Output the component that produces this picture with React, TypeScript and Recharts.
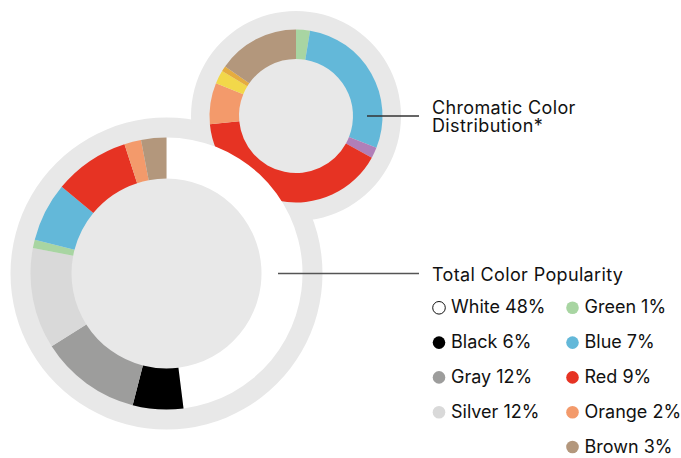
import React from 'react';
import { PieChart, Pie, Cell } from 'recharts';

// Total color popularity (percent of all cars)
const totalNames = ['White', 'Black', 'Gray', 'Silver', 'Green', 'Blue', 'Red', 'Orange', 'Brown'];
const totalValues = [48, 6, 12, 12, 1, 7, 9, 2, 3];
const totalColors = ['#ffffff', '#000000', '#9d9d9c', '#d9d9d9', '#a8d5a2', '#63b8d9', '#e63323', '#f39a6b', '#b3977c'];

// Chromatic color distribution (share of chromatic colors)
const chromaNames = ['Green', 'Blue', 'Purple', 'Red', 'Orange', 'Yellow', 'Gold', 'Brown'];
const chromaValues = [2.6, 28.4, 2, 40.5, 7.7, 2.5, 1, 15.3];
const chromaColors = ['#a8d5a2', '#63b8d9', '#b07fb8', '#e63323', '#f39a6b', '#f2d84a', '#e5ac3f', '#b3977c'];

const HALO = '#e8e8e8';
const FONT = 'Inter, "Liberation Sans", Arial, sans-serif';
const FS = 18;

const totalData = totalNames.map((name, i) => ({ name, value: totalValues[i] }));
const chromaData = chromaNames.map((name, i) => ({ name, value: chromaValues[i] }));
const halo = [{ name: 'halo', value: 1 }];

const big = { cx: 166.5, cy: 273.5 };
const small = { cx: 296, cy: 116 };

// annotation lines, titles and legend drawn over the chart
const Overlay = () => (
  <svg
    width={681}
    height={458}
    style={{ position: 'absolute', left: 0, top: 0, pointerEvents: 'none' }}
    fontFamily={FONT}
    fontSize={FS}
  >
    <line x1={367} y1={small.cy} x2={419} y2={small.cy} stroke="#333" strokeWidth={1.3} />
    <line x1={278} y1={big.cy} x2={419} y2={big.cy} stroke="#555" strokeWidth={1.3} />
    <g letterSpacing={0.35} fill="#111">
      <text x={432} y={114.3}>Chromatic Color</text>
      <text x={432} y={132.3}>Distribution*</text>
      <text x={432} y={281}>Total Color Popularity</text>
    </g>
    {totalData.map((d, i) => {
      // first four in col 1, rest in col 2
      const col = i < 4 ? 0 : 1;
      const row = col === 0 ? i : i - 4;
      const x = col === 0 ? 439 : 572.5;
      const base = 313.3 + row * 34.8;
      return (
        <g key={d.name}>
          <circle
            cx={x}
            cy={base - 5.5}
            r={6.3}
            fill={totalColors[i]}
            stroke={d.name === 'White' ? '#111' : 'none'}
            strokeWidth={1}
          />
          <text x={x + 12} y={base} fill="#111" letterSpacing={0}>
            {d.name} {d.value}%
          </text>
        </g>
      );
    })}
  </svg>
);

export default function App() {
  return (
    <div style={{ position: 'absolute', left: 0, top: 0, width: 681, height: 458, background: '#fff' }}>
      <PieChart width={681} height={458} margin={{ top: 0, right: 0, bottom: 0, left: 0 }}>
        <Pie
          data={halo}
          dataKey="value"
          cx={big.cx}
          cy={big.cy}
          outerRadius={156}
          innerRadius={0}
          fill={HALO}
          stroke="none"
          isAnimationActive={false}
        />
        <Pie
          data={halo}
          dataKey="value"
          cx={small.cx}
          cy={small.cy}
          outerRadius={105}
          innerRadius={0}
          fill={HALO}
          stroke="none"
          isAnimationActive={false}
        />
        <Pie
          data={chromaData}
          dataKey="value"
          cx={small.cx}
          cy={small.cy}
          innerRadius={57}
          outerRadius={86.5}
          startAngle={90}
          endAngle={-270}
          stroke="none"
          isAnimationActive={false}
        >
          {chromaData.map((d, i) => (
            <Cell key={d.name} fill={chromaColors[i]} />
          ))}
        </Pie>
        <Pie
          data={totalData}
          dataKey="value"
          cx={big.cx}
          cy={big.cy}
          innerRadius={95}
          outerRadius={136}
          startAngle={90}
          endAngle={-270}
          stroke="none"
          isAnimationActive={false}
        >
          {totalData.map((d, i) => (
            <Cell key={d.name} fill={totalColors[i]} />
          ))}
        </Pie>
      </PieChart>
      <Overlay />
    </div>
  );
}
